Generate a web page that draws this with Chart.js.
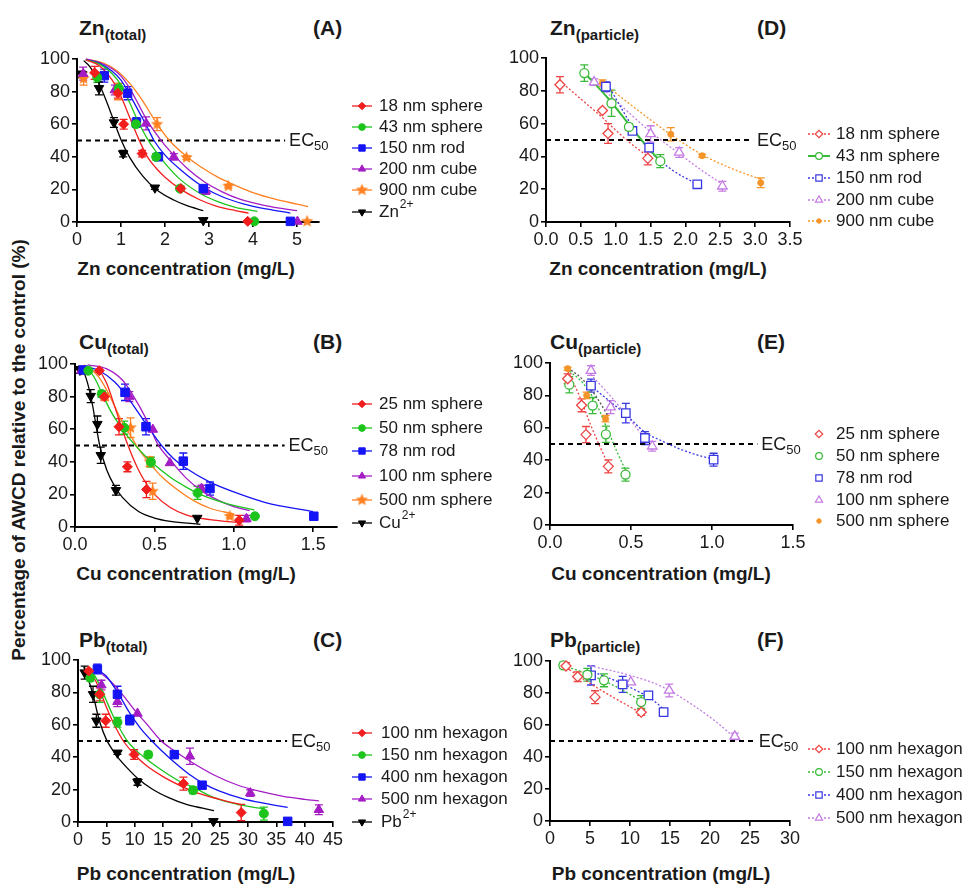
<!DOCTYPE html>
<html>
<head>
<meta charset="utf-8">
<script src="https://cdn.jsdelivr.net/npm/chart.js@4.4.1/dist/chart.umd.min.js"></script>
<style>
  body { margin: 0; background: #fff; width: 966px; height: 888px; position: relative; overflow: hidden;
         font-family: "Liberation Sans", Arial, sans-serif; color: #1a1a1a; }
  canvas { position: absolute; }
  .lbl { position: absolute; font-weight: bold; white-space: nowrap; line-height: 1; }
  .ttl { font-size: 21px; }
  .ttl span { font-size: 15px; position: relative; top: 5px; }
  .ax { font-size: 19px; transform: translate(-50%, -50%); }
  .ytl { font-size: 19px; left: 18px; top: 450px; transform: translate(-50%, -50%) rotate(-90deg); }
</style>
</head>
<body>
<div class="lbl ytl">Percentage of AWCD relative to the control (%)</div>

<div class="lbl ttl" style="left:79px;top:17px">Zn<span>(total)</span></div>
<div class="lbl ttl" style="left:313px;top:17px">(A)</div>
<div class="lbl ttl" style="left:550px;top:17px">Zn<span>(particle)</span></div>
<div class="lbl ttl" style="left:757px;top:17px">(D)</div>
<div class="lbl ttl" style="left:79px;top:331px">Cu<span>(total)</span></div>
<div class="lbl ttl" style="left:313px;top:331px">(B)</div>
<div class="lbl ttl" style="left:550px;top:331px">Cu<span>(particle)</span></div>
<div class="lbl ttl" style="left:757px;top:331px">(E)</div>
<div class="lbl ttl" style="left:79px;top:629px">Pb<span>(total)</span></div>
<div class="lbl ttl" style="left:313px;top:629px">(C)</div>
<div class="lbl ttl" style="left:550px;top:629px">Pb<span>(particle)</span></div>
<div class="lbl ttl" style="left:757px;top:629px">(F)</div>

<div class="lbl ax" style="left:186px;top:268px">Zn concentration (mg/L)</div>
<div class="lbl ax" style="left:658px;top:268px">Zn concentration (mg/L)</div>
<div class="lbl ax" style="left:186px;top:573px">Cu concentration (mg/L)</div>
<div class="lbl ax" style="left:661px;top:573px">Cu concentration (mg/L)</div>
<div class="lbl ax" style="left:186px;top:873px">Pb concentration (mg/L)</div>
<div class="lbl ax" style="left:661px;top:873px">Pb concentration (mg/L)</div>

<canvas id="chartA"></canvas>
<canvas id="chartD"></canvas>
<canvas id="chartB"></canvas>
<canvas id="chartE"></canvas>
<canvas id="chartC"></canvas>
<canvas id="chartF"></canvas>

<script>
// ---- data: points are [x, y, sd], fits are [x, y] ----
const yTicks = [0, 20, 40, 60, 80, 100];
const znTotTicks = [0, 1, 2, 3, 4, 5];
const znPartTicks = [0, 0.5, 1, 1.5, 2, 2.5, 3, 3.5];
const cuTotTicks = [0, 0.5, 1, 1.5];
const cuPartTicks = [0, 0.5, 1, 1.5];
const pbTotTicks = [0, 5, 10, 15, 20, 25, 30, 35, 40, 45];
const pbPartTicks = [0, 5, 10, 15, 20, 25, 30];

// (A) Zn total
const znT18 = [[0.40, 91.5, 4], [0.93, 79, 3], [1.06, 60, 3], [1.48, 42, 2], [2.36, 20.5, 1.5], [3.88, 0.4, 0]];
const znT43 = [[0.46, 88.7, 3], [0.95, 82, 3], [1.34, 60, 2], [1.80, 40, 2], [2.34, 20.5, 1.5], [4.03, 0.4, 0]];
const znT150 = [[0.62, 89.8, 4], [1.15, 79, 4], [1.35, 61, 3], [1.85, 40, 2], [2.87, 20.5, 2], [4.85, 0.4, 0]];
const znT200 = [[0.14, 91, 4], [0.86, 81, 3], [1.57, 60.5, 4], [2.20, 40, 2], [2.93, 19, 2], [5.01, 0.3, 0]];
const znT900 = [[0.15, 88, 4], [0.93, 80, 5], [1.82, 60, 4], [2.49, 39.5, 1], [3.44, 22, 1], [5.23, 0.4, 0]];
const znTion = [[0.11, 90.6, 2], [0.50, 82, 4], [0.84, 61, 3], [1.05, 42, 2], [1.77, 21, 1], [2.87, 1, 0]];
const znT18Fit = [[0.2, 99.5], [0.5, 96], [0.8, 87], [1.0, 77], [1.2, 64], [1.4, 51], [1.6, 40], [1.8, 33], [2.0, 27.5], [2.36, 20], [2.8, 13.5], [3.2, 9.5], [3.6, 7], [3.9, 5.5]];
const znT43Fit = [[0.2, 99.5], [0.5, 97], [0.8, 91], [1.0, 84], [1.2, 73], [1.4, 61], [1.6, 51], [1.8, 43], [2.0, 36], [2.35, 26], [2.8, 17.5], [3.2, 12.5], [3.6, 9], [4.1, 6.5]];
const znT150Fit = [[0.2, 99.5], [0.5, 97.5], [0.8, 92.5], [1.0, 87], [1.2, 78], [1.4, 68], [1.6, 58], [1.75, 50], [2.0, 41], [2.4, 31], [2.87, 21.5], [3.3, 15.5], [3.8, 11], [4.3, 8], [4.85, 5.5]];
const znT200Fit = [[0.2, 100], [0.5, 98], [0.8, 94], [1.0, 89.5], [1.2, 82], [1.4, 72], [1.6, 62], [1.8, 54], [2.0, 47], [2.2, 41], [2.5, 33], [2.9, 24.5], [3.3, 18.5], [3.7, 14], [4.2, 10.5], [4.6, 8.5], [5.0, 7]];
const znT900Fit = [[0.3, 99.5], [0.6, 97.5], [0.9, 93], [1.2, 85], [1.5, 74], [1.8, 61], [2.1, 50], [2.5, 40], [2.8, 34], [3.2, 27.5], [3.6, 22.5], [4.0, 18], [4.5, 14], [5.0, 11], [5.25, 9.5]];
const znTionFit = [[0.15, 99], [0.3, 95], [0.5, 85], [0.7, 72], [0.85, 61], [1.0, 50.5], [1.2, 39.5], [1.5, 28], [1.8, 20], [2.2, 13.5], [2.5, 10], [2.87, 7]];

// (D) Zn particle
const znP18 = [[0.20, 83.7, 5], [0.81, 68, 0], [0.89, 54, 6], [1.46, 38.8, 4]];
const znP43 = [[0.55, 90.8, 5], [0.94, 72.4, 8], [1.19, 58, 2], [1.64, 37.1, 4]];
const znP150 = [[0.86, 82.5, 3], [1.24, 55.5, 1], [1.48, 45.3, 2], [2.17, 23, 1]];
const znP200 = [[0.69, 85.3, 2], [1.50, 53.7, 5], [1.91, 42.4, 3], [2.53, 21.8, 3]];
const znP900 = [[0.81, 84.7, 2], [1.79, 53.5, 4], [2.24, 40.4, 1], [3.08, 23.9, 3]];
const znP18Fit = [[0.2, 86], [0.5, 75], [0.8, 64], [1.0, 56], [1.2, 48.5], [1.46, 40]];
const znP43Fit = [[0.55, 91], [0.9, 75], [1.2, 59], [1.45, 46], [1.64, 37]];
const znP150Fit = [[0.86, 86], [1.1, 68], [1.3, 54], [1.5, 43], [1.8, 32], [2.17, 23]];
const znP200Fit = [[0.69, 86], [1.0, 74], [1.5, 55], [1.9, 42], [2.2, 32.5], [2.53, 23]];
const znP900Fit = [[0.81, 85], [1.2, 72], [1.8, 53], [2.24, 41], [2.7, 32], [3.08, 26]];

// (B) Cu total
const cuT25 = [[0.153, 95.9, 1], [0.185, 79.9, 2], [0.277, 61.5, 5], [0.33, 36.9, 3], [0.45, 23, 5], [1.034, 4.1, 3]];
const cuT50 = [[0.084, 95.9, 1], [0.168, 81.6, 2], [0.31, 60.9, 4], [0.478, 39.8, 3], [0.772, 20.9, 4], [1.133, 6.6, 0]];
const cuT78 = [[0.052, 96.3, 2], [0.315, 82.6, 5], [0.447, 61.5, 5], [0.682, 40.4, 5], [0.85, 23.6, 4], [1.504, 6.6, 0]];
const cuT100 = [[0.04, 96, 1], [0.342, 80, 3], [0.49, 59.8, 0], [0.598, 39.3, 0], [0.797, 23.6, 2], [1.08, 5.1, 2]];
const cuT500 = [[0.06, 96, 0], [0.19, 80, 2], [0.35, 60.9, 6], [0.47, 40, 3], [0.489, 21.9, 5], [0.975, 6.6, 1]];
const cuTion = [[0.031, 96.3, 2], [0.099, 80.3, 4], [0.141, 63.1, 5], [0.162, 44, 5], [0.258, 22.5, 3], [0.77, 5.5, 0]];
const cuT25Fit = [[0.15, 97], [0.2, 88], [0.25, 74], [0.3, 59], [0.35, 46], [0.4, 35], [0.45, 26.5], [0.5, 20], [0.6, 12], [0.7, 7.5], [0.85, 4.5], [1.05, 2.5]];
const cuT50Fit = [[0.08, 97], [0.12, 92], [0.17, 82], [0.22, 72], [0.27, 64], [0.32, 57], [0.39, 49], [0.48, 40], [0.6, 30.5], [0.7, 24.5], [0.8, 19.5], [0.95, 14.5], [1.13, 10.5]];
const cuT78Fit = [[0.05, 99], [0.15, 96], [0.25, 89], [0.32, 81], [0.4, 70], [0.47, 60], [0.545, 50], [0.62, 42], [0.7, 36], [0.85, 27.5], [1.0, 21.5], [1.2, 15], [1.5, 9.5]];
const cuT100Fit = [[0.08, 99.5], [0.2, 97], [0.3, 90], [0.37, 80], [0.45, 66], [0.52, 51], [0.6, 41], [0.7, 30], [0.8, 22], [0.9, 16.5], [1.0, 12.5], [1.1, 10]];
const cuT500Fit = [[0.1, 97], [0.15, 92], [0.2, 84], [0.25, 74], [0.3, 64], [0.35, 56], [0.4, 48], [0.48, 38], [0.55, 30.5], [0.65, 22.5], [0.75, 16], [0.85, 11.5], [1.0, 8]];
const cuTionFit = [[0.02, 99], [0.05, 96], [0.08, 88], [0.11, 75], [0.14, 58], [0.16, 48], [0.2, 35], [0.25, 25], [0.3, 18], [0.4, 9.5], [0.5, 5.5], [0.6, 3.5], [0.79, 1.6]];

// (E) Cu particle
const cuP25 = [[0.109, 90.3, 3], [0.195, 73.9, 4], [0.222, 55.8, 5], [0.36, 36.2, 4]];
const cuP50 = [[0.119, 86.6, 5], [0.263, 73.7, 5], [0.345, 56, 5], [0.466, 31.1, 4]];
const cuP78 = [[0.253, 86, 4], [0.468, 69.1, 6], [0.586, 53.7, 4], [1.01, 40.3, 4]];
const cuP100 = [[0.253, 95.3, 3], [0.374, 72.8, 4], [0.631, 48.6, 3]];
const cuP500 = [[0.109, 96.5, 1], [0.226, 80, 2], [0.343, 65.6, 2]];
const cuP25Fit = [[0.11, 95], [0.18, 80], [0.25, 62], [0.31, 48], [0.366, 36]];
const cuP50Fit = [[0.12, 95], [0.2, 88], [0.28, 76], [0.35, 60], [0.41, 46], [0.47, 33]];
const cuP78Fit = [[0.25, 86], [0.35, 78], [0.47, 68], [0.59, 57], [0.7, 51.5], [0.8, 47], [0.9, 43.5], [1.01, 40.5]];
const cuP100Fit = [[0.25, 93], [0.37, 80], [0.47, 68], [0.55, 58], [0.63, 49]];
const cuP500Fit = [[0.11, 97], [0.2, 90], [0.28, 80], [0.36, 67]];

// (C) Pb total
const pbT100 = [[1.89, 93.2, 1], [3.83, 78.8, 4], [4.89, 62.5, 4], [9.9, 41.6, 3], [18.6, 23.7, 4], [28.8, 5.8, 5]];
const pbT150 = [[2.18, 89, 2], [3.83, 78.8, 5], [6.96, 61.6, 3], [12.4, 41.6, 2], [20.3, 19.6, 2], [32.8, 5.2, 4]];
const pbT400 = [[3.42, 94.4, 3], [6.96, 78.8, 5], [9.14, 62.9, 3], [17, 41.6, 2], [21.9, 22.7, 1], [37, 0.4, 0]];
const pbT500 = [[4.13, 84.5, 3], [6.96, 74.2, 3], [10.5, 67, 0], [19.75, 40.6, 5], [30.4, 17.9, 2], [42.5, 7.6, 3]];
const pbTion = [[1.18, 92.2, 4], [2.65, 78.8, 5], [3.24, 62.5, 4], [6.96, 42.7, 1], [10.5, 24.7, 2], [23.9, 0.4, 0]];
const pbT100Fit = [[2, 93], [3, 88], [4, 80], [5, 71], [6, 63], [7, 56], [8, 50], [10, 41.5], [12, 35], [15, 28], [18, 22.5], [21, 18], [25, 14], [29, 10.5]];
const pbT150Fit = [[2, 94], [3, 90], [4, 83], [5, 75], [6, 67], [7, 60], [8.7, 50], [10, 45], [12.4, 38], [15, 31.5], [18, 25], [20.3, 21.5], [24, 15], [28, 11], [33, 8]];
const pbT400Fit = [[3.5, 94], [5, 90], [7, 80], [9, 68], [11, 58], [13.6, 48], [16, 40], [18, 34], [20, 28.5], [22, 24], [25, 19], [29, 14.5], [33, 11.5], [37, 9]];
const pbT500Fit = [[4, 92], [6, 86], [8, 78], [10, 69], [12, 61], [14.7, 50], [17, 44], [20, 37], [24, 29], [28, 23], [32, 19], [36, 16], [40, 14], [42.5, 13]];
const pbTionFit = [[1, 96], [2, 86], [2.7, 78], [3.3, 69], [4, 60], [5, 51], [6, 45], [7, 40], [8.5, 34], [10.5, 27], [13, 20.5], [16, 15], [19, 11], [22, 8.5], [24, 7]];

// (F) Pb particle
const pbP100 = [[2.0, 96.9, 2], [3.46, 90.2, 3], [5.63, 77.4, 4], [11.4, 68, 2]];
const pbP150 = [[1.67, 97.3, 2], [4.67, 91.4, 4], [6.75, 87.9, 4], [11.4, 74.3, 4]];
const pbP400 = [[5.13, 91, 6], [9.08, 85.4, 5], [12.3, 78.5, 2], [14.2, 68, 2]];
const pbP500 = [[10.1, 86.8, 0], [14.9, 81.6, 4], [23.1, 52.9, 2]];
const pbP100Fit = [[2, 96], [5, 86], [8, 77], [11.4, 67.5]];
const pbP150Fit = [[1.7, 97], [4.7, 92], [7, 87], [9, 82], [11.4, 75]];
const pbP400Fit = [[5, 94], [7, 90], [9, 86], [11, 81], [12.5, 77], [14.2, 70]];
const pbP500Fit = [[5, 97], [10, 91], [14, 84], [18, 72], [21, 61], [23.1, 52]];

// where the dashed EC50 line stops (x units)
const ecEndA = 4.73, ecEndB = 1.32, ecEndC = 36.9, ecEndD = 2.97, ecEndE = 1.28, ecEndF = 25.6;

// ---- look ----
const FONT = '"Liberation Sans", Arial, sans-serif';
Chart.defaults.font.family = FONT;
Chart.defaults.color = '#1a1a1a';
const YW = 44, XH = 30;
const TICK_SIZE = 18, LEG_SIZE = 17;

const C = { red: '#f21d1d', green: '#1cc41c', blue: '#1414f5', purple: '#a41cc4', orange: '#ff8020', black: '#000000' };
const CL = { red: '#ee4444', green: '#38bb38', blue: '#3838e2', purple: '#c47ce4', orange: '#f59428', grey: '#555555' };

function starImage(color, r) {
    const c = document.createElement('canvas');
    const s = Math.ceil(r * 2 + 2);
    c.width = s; c.height = s;
    const g = c.getContext('2d');
    g.fillStyle = color;
    g.beginPath();
    for (let i = 0; i < 10; i++) {
        const a = -Math.PI / 2 + i * Math.PI / 5;
        const rr = i % 2 ? r * 0.45 : r;
        g.lineTo(s / 2 + rr * Math.cos(a), s / 2 + rr * Math.sin(a));
    }
    g.closePath();
    g.fill();
    return c;
}

const MK = {
    diamond: { pointStyle: 'rectRot', radius: 5 },
    circle: { pointStyle: 'circle', radius: 4.5 },
    square: { pointStyle: 'rect', radius: 6 },
    triangle: { pointStyle: 'triangle', radius: 5.5 },
    down: { pointStyle: 'triangle', radius: 5.5, rotation: 180 },
    star: { pointStyle: starImage(C.orange, 6.5), radius: 6 },
    dot: { pointStyle: 'circle', radius: 3 }
};

// ---- plugins ----
const errorBars = {
    id: 'errorBars',
    beforeDatasetsDraw(chart) {
        const ctx = chart.ctx, ys = chart.scales.y;
        chart.data.datasets.forEach((ds, i) => {
            if (!ds.errors) return;
            const meta = chart.getDatasetMeta(i);
            ctx.save();
            ctx.strokeStyle = ds.borderColor;
            ctx.lineWidth = 1.3;
            meta.data.forEach((pt, j) => {
                const e = ds.errors[j];
                if (!e) return;
                const yt = ys.getPixelForValue(ds.data[j].y + e);
                const yb = ys.getPixelForValue(ds.data[j].y - e);
                ctx.beginPath();
                ctx.moveTo(pt.x, yt); ctx.lineTo(pt.x, yb);
                ctx.moveTo(pt.x - 4, yt); ctx.lineTo(pt.x + 4, yt);
                ctx.moveTo(pt.x - 4, yb); ctx.lineTo(pt.x + 4, yb);
                ctx.stroke();
            });
            ctx.restore();
        });
    }
};

const sideLegend = {
    id: 'sideLegend',
    afterDraw(chart, args, o) {
        if (o.x == null) return;
        const ctx = chart.ctx;
        const items = chart.data.datasets.filter(d => d.legendSpec).map(d => d.legendSpec);
        items.forEach((s, k) => {
            const y = o.y[k];
            ctx.save();
            if (o.lines) {
                ctx.strokeStyle = s.color;
                ctx.lineWidth = s.lw || 1.3;
                ctx.setLineDash(s.dash || []);
                ctx.beginPath();
                ctx.moveTo(o.x, y); ctx.lineTo(o.x + o.len, y);
                ctx.stroke();
                ctx.setLineDash([]);
            }
            ctx.fillStyle = s.open ? '#fff' : s.color;
            ctx.strokeStyle = s.color;
            ctx.lineWidth = s.open ? 1.2 : 1;
            Chart.helpers.drawPoint(ctx, {
                pointStyle: s.mk.pointStyle, rotation: s.mk.rotation || 0,
                radius: s.mk.radius * 0.75, borderWidth: ctx.lineWidth
            }, o.x + o.len / 2, y);
            ctx.fillStyle = '#1a1a1a';
            ctx.font = LEG_SIZE + 'px ' + FONT;
            ctx.textBaseline = 'middle';
            const parts = s.label.split('^');
            ctx.fillText(parts[0], o.tx, y);
            if (parts[1]) {
                const w = ctx.measureText(parts[0]).width;
                ctx.font = Math.round(LEG_SIZE * 0.7) + 'px ' + FONT;
                ctx.fillText(parts[1], o.tx + w + 1, y - 7);
            }
            ctx.restore();
        });
    }
};

const ec50Label = {
    id: 'ec50Label',
    afterDatasetsDraw(chart, args, o) {
        if (o.end == null) return;
        const ctx = chart.ctx;
        const x = chart.scales.x.getPixelForValue(o.end) + 4;
        const y = chart.scales.y.getPixelForValue(50);
        ctx.save();
        ctx.fillStyle = '#1a1a1a';
        ctx.textBaseline = 'middle';
        ctx.font = '18px ' + FONT;
        ctx.fillText('EC', x, y + 1);
        const w = ctx.measureText('EC').width;
        ctx.font = '13px ' + FONT;
        ctx.fillText('50', x + w, y + 6);
        ctx.restore();
    }
};

Chart.register(errorBars, sideLegend, ec50Label);

function toXY(arr) {
    return arr.map(p => ({ x: p[0], y: p[1] }));
}

function buildSets(list, ecEnd) {
    const out = [];
    list.forEach(s => {
        out.push({
            data: toXY(s.pts),
            errors: s.pts.map(p => p[2]),
            showLine: false,
            pointStyle: s.mk.pointStyle,
            pointRadius: s.mk.radius,
            pointRotation: s.mk.rotation || 0,
            pointBackgroundColor: s.open ? '#fff' : s.color,
            pointBorderColor: s.color,
            pointBorderWidth: s.open ? 1.3 : 1,
            borderColor: s.color,
            clip: false,
            order: 0,
            legendSpec: s
        });
        if (s.fit) {
            out.push({
                data: toXY(s.fit),
                showLine: true,
                pointRadius: 0,
                borderColor: s.fitColor || s.color,
                borderWidth: s.lw || 1.3,
                borderDash: s.dash || [],
                cubicInterpolationMode: 'monotone',
                clip: false,
                order: 1
            });
        }
    });
    out.push({
        data: [{ x: 0, y: 50 }, { x: ecEnd, y: 50 }],
        showLine: true,
        pointRadius: 0,
        borderColor: '#000',
        borderWidth: 1.8,
        borderDash: [5, 4],
        clip: false,
        order: 2
    });
    return out;
}

function axis(min, max, ticks, dec, isX) {
    return {
        type: 'linear',
        min: min,
        max: max,
        afterBuildTicks: s => { s.ticks = ticks.map(v => ({ value: v })); },
        afterFit: s => { if (isX) s.height = XH; else s.width = YW; },
        ticks: {
            autoSkip: false, maxRotation: 0, padding: 2, color: '#1a1a1a',
            font: { size: TICK_SIZE },
            callback: v => v.toFixed(dec)
        },
        grid: { drawOnChartArea: false, drawTicks: true, tickLength: 5, color: '#000', lineWidth: 1.6 },
        border: { display: true, color: '#000', width: 2 }
    };
}

// cv: canvas box, box: plot box (page px), leg: legend (page px)
function panel(id, cv, box, xMax, xTicks, xDec, series, ecEnd, leg) {
    const el = document.getElementById(id);
    el.width = cv.w; el.height = cv.h;
    el.style.left = cv.l + 'px'; el.style.top = cv.t + 'px';
    el.style.width = cv.w + 'px'; el.style.height = cv.h + 'px';
    return new Chart(el, {
        type: 'scatter',
        data: { datasets: buildSets(series, ecEnd) },
        options: {
            responsive: false,
            animation: false,
            events: [],
            layout: {
                padding: {
                    left: box.l - cv.l - YW,
                    top: box.t - cv.t,
                    right: cv.l + cv.w - box.r,
                    bottom: cv.t + cv.h - box.b - XH
                }
            },
            plugins: {
                legend: { display: false },
                tooltip: { enabled: false },
                sideLegend: {
                    x: leg.x - cv.l, len: leg.len, tx: leg.tx - cv.l,
                    y: leg.y.map(v => v - cv.t), lines: leg.lines
                },
                ec50Label: { end: ecEnd }
            },
            scales: {
                x: axis(0, xMax, xTicks, xDec, true),
                y: axis(0, 100, yTicks, 0, false)
            }
        }
    });
}

const dotted = [2, 2];

panel('chartA', { l: 0, t: 40, w: 520, h: 214 }, { l: 77, t: 59, r: 319, b: 222 }, 5.5, znTotTicks, 0, [
    { label: '18 nm sphere', pts: znT18, fit: znT18Fit, color: C.red, mk: MK.diamond },
    { label: '43 nm sphere', pts: znT43, fit: znT43Fit, color: C.green, mk: MK.circle },
    { label: '150 nm rod', pts: znT150, fit: znT150Fit, color: C.blue, mk: MK.square },
    { label: '200 nm cube', pts: znT200, fit: znT200Fit, color: C.purple, mk: MK.triangle },
    { label: '900 nm cube', pts: znT900, fit: znT900Fit, color: C.orange, mk: MK.star },
    { label: 'Zn^2+', pts: znTion, fit: znTionFit, color: C.black, mk: MK.down }
], ecEndA, { x: 352, len: 20, tx: 379, y: [106, 127, 148, 169, 190, 212], lines: true });

panel('chartD', { l: 483, t: 40, w: 483, h: 214 }, { l: 546, t: 58, r: 790, b: 222 }, 3.5, znPartTicks, 1, [
    { label: '18 nm sphere', pts: znP18, fit: znP18Fit, color: CL.red, mk: MK.diamond, open: true, dash: dotted },
    { label: '43 nm sphere', pts: znP43, fit: znP43Fit, color: CL.green, mk: MK.circle, open: true, lw: 2 },
    { label: '150 nm rod', pts: znP150, fit: znP150Fit, color: CL.blue, mk: MK.square, open: true, dash: dotted },
    { label: '200 nm cube', pts: znP200, fit: znP200Fit, color: CL.purple, mk: MK.triangle, open: true, dash: dotted },
    { label: '900 nm cube', pts: znP900, fit: znP900Fit, color: CL.orange, mk: MK.dot, dash: dotted }
], ecEndD, { x: 808, len: 22, tx: 836, y: [134, 156, 178, 200, 221], lines: true });

panel('chartB', { l: 0, t: 344, w: 520, h: 214 }, { l: 75, t: 364, r: 337, b: 527 }, 1.65, cuTotTicks, 1, [
    { label: '25 nm sphere', pts: cuT25, fit: cuT25Fit, color: C.red, mk: MK.diamond },
    { label: '50 nm sphere', pts: cuT50, fit: cuT50Fit, color: C.green, mk: MK.circle },
    { label: '78 nm rod', pts: cuT78, fit: cuT78Fit, color: C.blue, mk: MK.square },
    { label: '100 nm sphere', pts: cuT100, fit: cuT100Fit, color: C.purple, mk: MK.triangle },
    { label: '500 nm sphere', pts: cuT500, fit: cuT500Fit, color: C.orange, mk: MK.star },
    { label: 'Cu^2+', pts: cuTion, fit: cuTionFit, color: C.black, mk: MK.down }
], ecEndB, { x: 352, len: 20, tx: 379, y: [404, 428, 451, 476, 500, 523], lines: true });

panel('chartE', { l: 483, t: 343, w: 483, h: 214 }, { l: 550, t: 363, r: 793, b: 525 }, 1.5, cuPartTicks, 1, [
    { label: '25 nm sphere', pts: cuP25, fit: cuP25Fit, color: CL.red, mk: MK.diamond, open: true, dash: dotted },
    { label: '50 nm sphere', pts: cuP50, fit: cuP50Fit, color: CL.green, mk: MK.circle, open: true, dash: dotted },
    { label: '78 nm rod', pts: cuP78, fit: cuP78Fit, color: CL.blue, mk: MK.square, open: true, dash: dotted },
    { label: '100 nm sphere', pts: cuP100, fit: cuP100Fit, color: CL.purple, mk: MK.triangle, open: true, dash: dotted },
    { label: '500 nm sphere', pts: cuP500, fit: cuP500Fit, color: CL.orange, fitColor: CL.grey, mk: MK.dot, dash: dotted }
], ecEndE, { x: 808, len: 22, tx: 836, y: [434, 456, 478, 500, 521], lines: false });

panel('chartC', { l: 0, t: 640, w: 520, h: 214 }, { l: 78, t: 660, r: 333, b: 822 }, 45, pbTotTicks, 0, [
    { label: '100 nm hexagon', pts: pbT100, fit: pbT100Fit, color: C.red, mk: MK.diamond },
    { label: '150 nm hexagon', pts: pbT150, fit: pbT150Fit, color: C.green, mk: MK.circle },
    { label: '400 nm hexagon', pts: pbT400, fit: pbT400Fit, color: C.blue, mk: MK.square },
    { label: '500 nm hexagon', pts: pbT500, fit: pbT500Fit, color: C.purple, mk: MK.triangle },
    { label: 'Pb^2+', pts: pbTion, fit: pbTionFit, color: C.black, mk: MK.down }
], ecEndC, { x: 352, len: 20, tx: 381, y: [733, 755, 777, 799, 822], lines: true });

panel('chartF', { l: 483, t: 641, w: 483, h: 214 }, { l: 550, t: 661, r: 790, b: 821 }, 30, pbPartTicks, 0, [
    { label: '100 nm hexagon', pts: pbP100, fit: pbP100Fit, color: CL.red, mk: MK.diamond, open: true, dash: dotted },
    { label: '150 nm hexagon', pts: pbP150, fit: pbP150Fit, color: CL.green, mk: MK.circle, open: true, dash: dotted },
    { label: '400 nm hexagon', pts: pbP400, fit: pbP400Fit, color: CL.blue, mk: MK.square, open: true, dash: dotted },
    { label: '500 nm hexagon', pts: pbP500, fit: pbP500Fit, color: CL.purple, mk: MK.triangle, open: true, dash: dotted }
], ecEndF, { x: 808, len: 22, tx: 836, y: [749, 772, 795, 818], lines: true });
</script>
</body>
</html>
